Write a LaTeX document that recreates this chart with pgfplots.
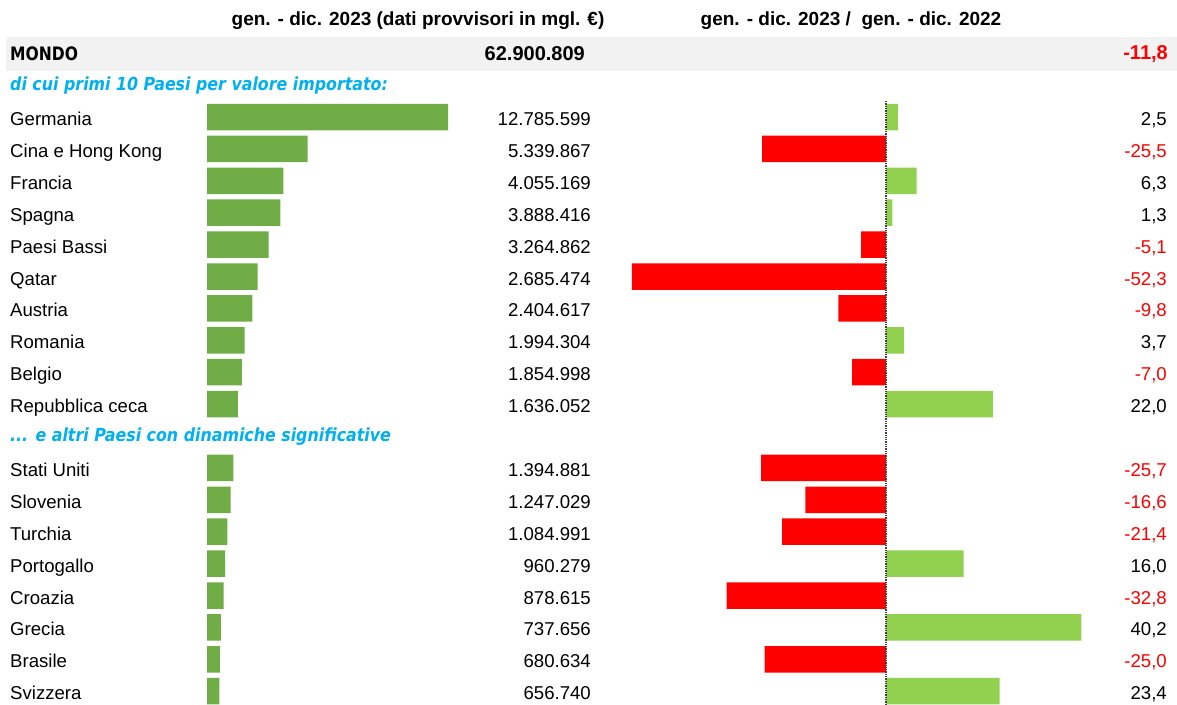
\documentclass[border=0pt]{standalone}
\usepackage{fontspec}
\setmainfont{Liberation Sans}
\newfontfamily\headfont{DejaVu Sans}[FakeStretch=0.88]
\newfontfamily\mondofont{DejaVu Sans}[FakeStretch=0.84]
\usepackage{pgfplots}
\usepackage{pgfplotstable}
\pgfplotsset{compat=1.18}

\definecolor{barleft}{HTML}{70AD47}
\definecolor{barpos}{HTML}{92D050}
\definecolor{barneg}{HTML}{FF0000}
\definecolor{headblue}{HTML}{00B0F0}
\definecolor{bandgray}{HTML}{F2F2F2}

% y = row centre, in pixels from the top of the picture
\pgfplotstableread[col sep=semicolon, row sep=\\]{
y;name;val;vtxt;var;ptxt\\
117.0;Germania;12785599;12.785.599;2.5;2,5\\
148.9;Cina e Hong Kong;5339867;5.339.867;-25.5;-25,5\\
180.8;Francia;4055169;4.055.169;6.3;6,3\\
212.7;Spagna;3888416;3.888.416;1.3;1,3\\
244.6;Paesi Bassi;3264862;3.264.862;-5.1;-5,1\\
276.5;Qatar;2685474;2.685.474;-52.3;-52,3\\
308.4;Austria;2404617;2.404.617;-9.8;-9,8\\
340.3;Romania;1994304;1.994.304;3.7;3,7\\
372.2;Belgio;1854998;1.854.998;-7.0;-7,0\\
404.1;Repubblica ceca;1636052;1.636.052;22.0;22,0\\
467.9;Stati Uniti;1394881;1.394.881;-25.7;-25,7\\
499.8;Slovenia;1247029;1.247.029;-16.6;-16,6\\
531.7;Turchia;1084991;1.084.991;-21.4;-21,4\\
563.6;Portogallo;960279;960.279;16.0;16,0\\
595.5;Croazia;878615;878.615;-32.8;-32,8\\
627.4;Grecia;737656;737.656;40.2;40,2\\
659.3;Brasile;680634;680.634;-25.0;-25,0\\
691.2;Svizzera;656740;656.740;23.4;23,4\\
}\countries

\pgfplotsset{
  pixelgrid/.style={scale only axis, height=704pt, ymin=0, ymax=704,
    y dir=reverse, hide axis, clip=false, anchor=south west},
}
\tikzset{rowtext/.style={font=\fontsize{18.6}{22}\selectfont, yshift=-8.5pt, inner sep=0pt}}
% red text when the label starts with a minus sign
\def\colneg#1#2\relax{\ifx-#1\color{barneg}\fi}

\begin{document}
\begin{tikzpicture}

% frame in pixel units: band, headers, texts
\begin{axis}[pixelgrid, at={(0pt,0pt)}, width=1177pt, xmin=0, xmax=1177]
\fill[bandgray] (axis cs:6,37) rectangle (axis cs:1177,71);
\node[font=\bfseries\fontsize{19}{22}\selectfont] at (axis cs:418,21)
  {gen. - dic. 2023 (dati provvisori in mgl. €)};
\node[font=\bfseries\fontsize{19}{22}\selectfont] at (axis cs:851,21)
  {gen. - dic. 2023 /\ \ gen. - dic. 2022};
\node[anchor=west, inner xsep=0pt, font=\mondofont\bfseries\fontsize{18.5}{20}\selectfont] at (axis cs:10,54) {MONDO};
\node[anchor=east, inner xsep=0pt, font=\bfseries\fontsize{20}{22}\selectfont] at (axis cs:585,54) {62.900.809};
\node[anchor=east, inner xsep=0pt, font=\bfseries\fontsize{20}{22}\selectfont, text=barneg] at (axis cs:1168,54) {-11,8};
\node[anchor=west, inner xsep=0pt, text=headblue, font=\headfont\bfseries\itshape\fontsize{18}{20}\selectfont]
  at (axis cs:10,86) {di cui primi 10 Paesi per valore importato:};
\node[anchor=west, inner xsep=0pt, text=headblue, font=\headfont\bfseries\itshape\fontsize{18}{20}\selectfont]
  at (axis cs:10,437) {... e altri Paesi con dinamiche significative};

\addplot[draw=none, mark=none, nodes near coords, point meta=explicit symbolic,
  every node near coord/.append style={rowtext, anchor=base west}]
  table[x expr=10, y=y, meta=name] {\countries};
\addplot[draw=none, mark=none, nodes near coords, point meta=explicit symbolic,
  every node near coord/.append style={rowtext, anchor=base east}]
  table[x expr=591, y=y, meta=vtxt] {\countries};
\addplot[draw=none, mark=none, point meta=explicit symbolic,
  nodes near coords={\expandafter\colneg\pgfplotspointmeta\relax\pgfplotspointmeta},
  every node near coord/.append style={rowtext, anchor=base east}]
  table[x expr=1167, y=y, meta=ptxt] {\countries};
\end{axis}

% values 2023
\begin{axis}[pixelgrid, at={(207pt,0pt)}, width=241pt, xmin=0, xmax=12785599,
  xbar, bar width=26.5pt]
\addplot[fill=barleft, draw=none, bar shift=0pt] table[x=val, y=y] {\countries};
\end{axis}

% change 2023/2022, %
\begin{axis}[pixelgrid, at={(594.58pt,0pt)}, width=582.84pt, xmin=-60, xmax=60,
  xbar, bar width=26.5pt]
\addplot[fill=barpos, draw=none, bar shift=0pt, restrict x to domain=0:100]
  table[x=var, y=y] {\countries};
\addplot[fill=barneg, draw=none, bar shift=0pt, restrict x to domain=-100:0]
  table[x=var, y=y] {\countries};
\draw[densely dotted, line width=1.3pt, black!75] (axis cs:0,101) -- (axis cs:0,704);
\end{axis}

\pgfresetboundingbox
\path (0,0) rectangle (1177pt,704pt);
\end{tikzpicture}
\end{document}
